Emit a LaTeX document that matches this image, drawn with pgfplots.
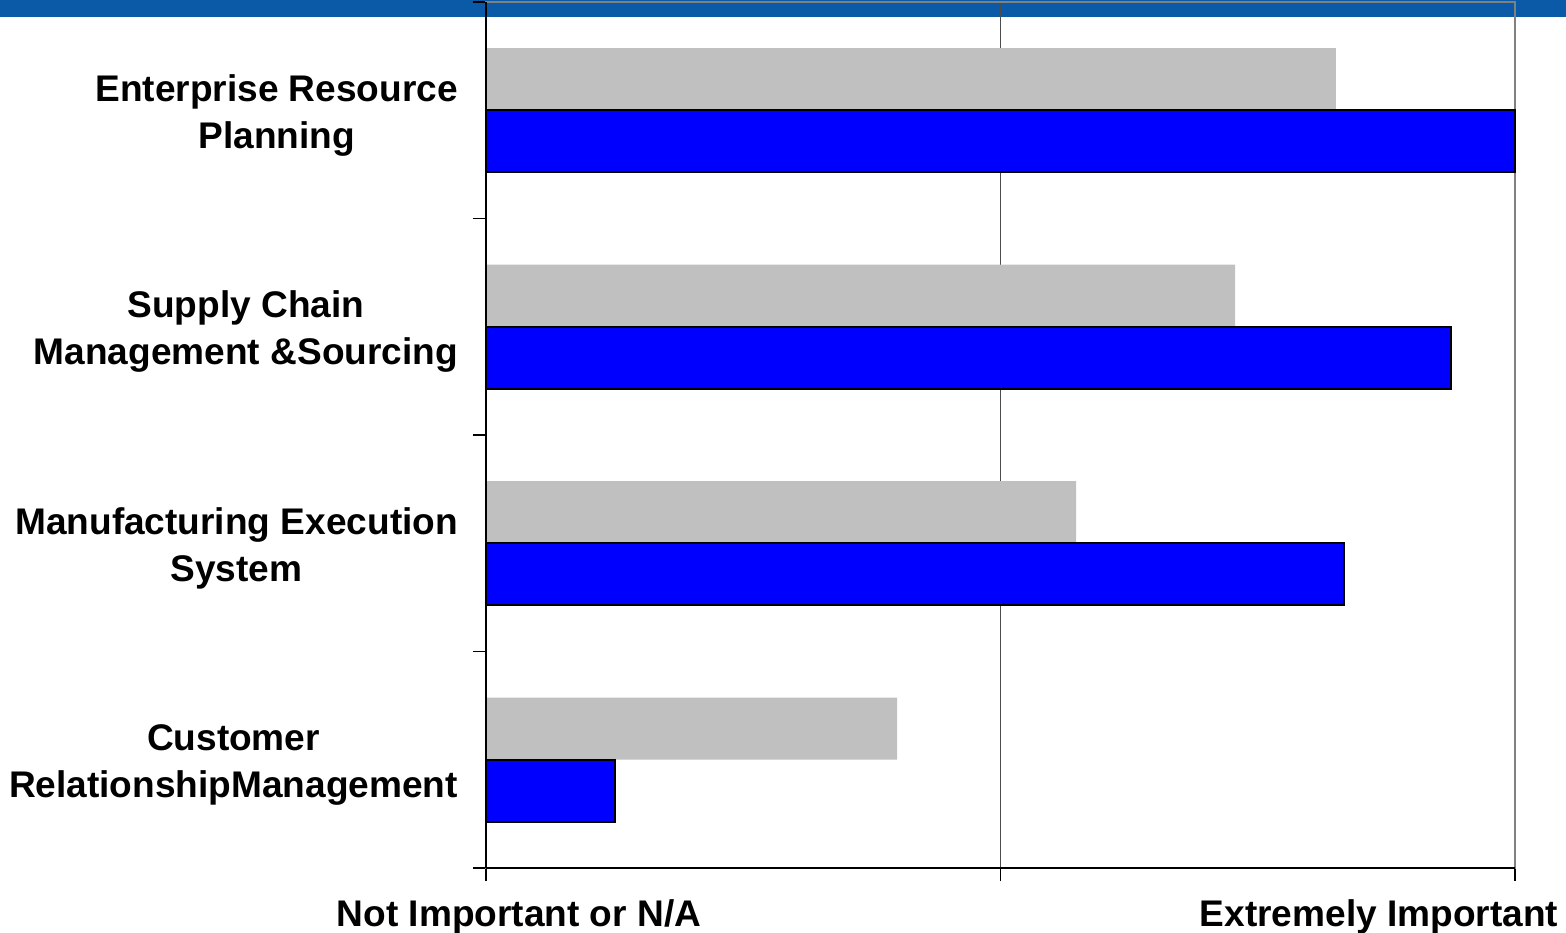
\documentclass[border=0pt]{standalone}
\usepackage{pgfplots}
\pgfplotsset{compat=1.18}
\usepackage{fontspec}
\setmainfont{Liberation Sans}
\definecolor{barblue}{HTML}{0000FF}
\definecolor{bargray}{HTML}{C0C0C0}
\definecolor{banner}{HTML}{0B5AA8}
\begin{document}
\begin{tikzpicture}
\useasboundingbox (-243bp,-32.5bp) rectangle (540bp,434bp);
\fill[banner] (-243bp,425.5bp) rectangle (540bp,434bp);
\begin{axis}[
  at={(0,0)}, anchor=south west,
  scale only axis, width=514.5bp, height=433bp,
  xmin=0, xmax=2, ymin=-0.5, ymax=3.5,
  xbar, bar width=31bp,
  xtick={0,1,2}, xticklabels={},
  ytick={0,1,2,3},
  yticklabels={{Customer\\RelationshipManagement},{Manufacturing Execution\\System},{Supply Chain\\Management \&Sourcing},{Enterprise Resource\\Planning}},
  minor ytick={-0.5,0.5,1.5,2.5,3.5},
  ytick pos=left, xtick pos=bottom,
  major tick length=6.5bp, minor tick length=6.5bp,
  tick align=outside,
  every major y tick/.style={draw=none},
  tick style={black, line width=0.8bp},
  yticklabel style={align=center, font=\bfseries\fontsize{18.6}{23.5}\selectfont, xshift=-4bp, yshift=-2.5bp},
  xmajorgrids, grid style={black!70, line width=0.5bp},
  axis line style={gray, line width=0.9bp},
  clip=false,
]
\addplot[fill=bargray, draw=none, bar shift=15.5bp] coordinates {(0.799,0) (1.147,1) (1.456,2) (1.652,3)};
\addplot[fill=barblue, draw=black, line width=1bp, bar shift=-15.5bp] coordinates {(0.251,0) (1.668,1) (1.876,2) (2.0,3)};
\draw[black, line width=1bp] (rel axis cs:0,0) -- (rel axis cs:0,1);
\draw[black, line width=1bp] (rel axis cs:0,0) -- (rel axis cs:1,0);
\node[font=\bfseries\fontsize{18.6}{22}\selectfont] at ([xshift=16.5bp,yshift=-24.5bp]rel axis cs:0,0) {Not Important or N/A};
\node[font=\bfseries\fontsize{18.6}{22}\selectfont] at ([xshift=446.5bp,yshift=-24.5bp]rel axis cs:0,0) {Extremely Important};
\end{axis}
\end{tikzpicture}
\end{document}
